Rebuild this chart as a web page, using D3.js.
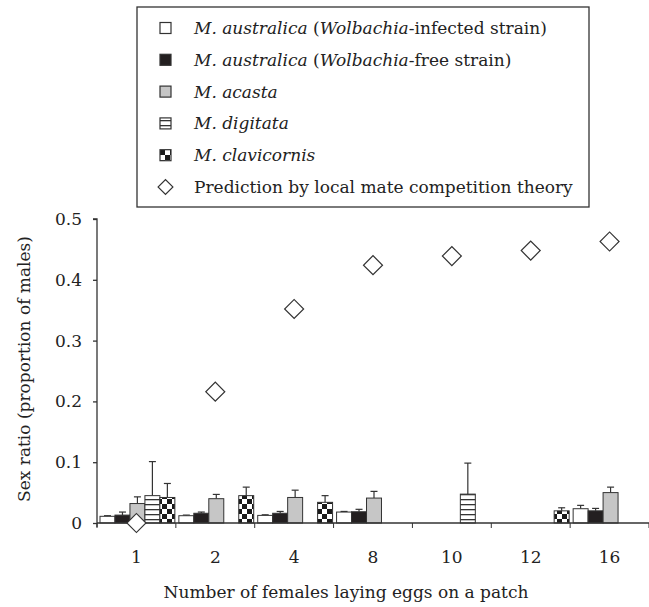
<!DOCTYPE html>
<meta charset="utf-8">
<script src="https://d3js.org/d3.v7.min.js"></script>
<style>
  body { margin: 0; background: #fff; }
  text { font-family: "DejaVu Serif", "Liberation Serif", serif; fill: #222; }
</style>
<div id="my_dataviz"></div>
<script>
  // categories (number of females per patch)
  var categories = ["1", "2", "4", "8", "10", "12", "16"];
  var seriesKeys = ["infected", "free", "acasta", "digitata", "clavicornis"];

  // mean sex ratio and error (null = not tested)
  var infected    = [0.011, 0.012, 0.0125, 0.018, null, null, 0.0235];
  var infectedErr = [0.001, 0.001, 0.001, 0.001, null, null, 0.0055];
  var free        = [0.013, 0.016, 0.016, 0.0185, null, null, 0.020];
  var freeErr     = [0.005, 0.002, 0.003, 0.004, null, null, 0.004];
  var acasta      = [0.032, 0.040, 0.042, 0.041, null, null, 0.050];
  var acastaErr   = [0.011, 0.007, 0.012, 0.011, null, null, 0.009];
  var digitata    = [0.045, null, null, null, 0.0475, null, null];
  var digitataErr = [0.056, null, null, null, 0.051, null, null];
  var clavicornis    = [0.042, 0.045, 0.034, null, null, 0.020, null];
  var clavicornisErr = [0.023, 0.014, 0.011, null, null, 0.005, null];
  // LMC prediction
  var prediction = [0, 0.216, 0.352, 0.424, 0.439, 0.448, 0.463];

  var yTicks = [0, 0.1, 0.2, 0.3, 0.4, 0.5];

  var values = { infected: infected, free: free, acasta: acasta, digitata: digitata, clavicornis: clavicornis };
  var errors = { infected: infectedErr, free: freeErr, acasta: acastaErr, digitata: digitataErr, clavicornis: clavicornisErr };
  var fills = { infected: "#fff", free: "#231f20", acasta: "#c6c6c6", digitata: "url(#stripes)", clavicornis: "url(#checker)" };

  var W = 649, H = 607;
  var margin = { top: 219, right: 0, bottom: 84, left: 97 },
    width = W - margin.left - margin.right,
    height = H - margin.top - margin.bottom;

  var root = d3.select("#my_dataviz").append("svg")
    .attr("width", W).attr("height", H);

  // patterns
  var defs = root.append("defs");
  var st = defs.append("pattern").attr("id", "stripes")
    .attr("patternUnits", "userSpaceOnUse").attr("width", 10).attr("height", 5);
  st.append("rect").attr("width", 10).attr("height", 5).attr("fill", "#fff");
  st.append("rect").attr("y", 0).attr("width", 10).attr("height", 1.3).attr("fill", "#333");
  var ch = defs.append("pattern").attr("id", "checker")
    .attr("patternUnits", "userSpaceOnUse").attr("width", 10).attr("height", 10);
  ch.append("rect").attr("width", 10).attr("height", 10).attr("fill", "#fff");
  ch.append("rect").attr("width", 5).attr("height", 5).attr("fill", "#1a1a1a");
  ch.append("rect").attr("x", 5).attr("y", 5).attr("width", 5).attr("height", 5).attr("fill", "#1a1a1a");

  var svg = root.append("g")
    .attr("transform", "translate(" + margin.left + "," + margin.top + ")");

  var x = d3.scaleBand().domain(categories).range([0, width]).padding(0);
  var x1 = d3.scaleBand().domain(seriesKeys).range([3, x.bandwidth() - 1]).padding(0);
  var y = d3.scaleLinear().domain([0, 0.5]).range([height, 0]);

  // bars
  seriesKeys.forEach(function (key) {
    var rows = categories.map(function (c, i) {
      return { cat: c, v: values[key][i], e: errors[key][i] };
    }).filter(function (d) { return d.v != null; });

    var g = svg.append("g");
    // error bars (drawn first, upward only)
    g.selectAll("line.err").data(rows).enter().append("line")
      .attr("x1", function (d) { return x(d.cat) + x1(key) + x1.bandwidth() / 2; })
      .attr("x2", function (d) { return x(d.cat) + x1(key) + x1.bandwidth() / 2; })
      .attr("y1", function (d) { return y(d.v); })
      .attr("y2", function (d) { return y(d.v + d.e); })
      .attr("stroke", "#333").attr("stroke-width", 1.2);
    g.selectAll("line.cap").data(rows).enter().append("line")
      .attr("x1", function (d) { return x(d.cat) + x1(key) + x1.bandwidth() / 2 - 3.5; })
      .attr("x2", function (d) { return x(d.cat) + x1(key) + x1.bandwidth() / 2 + 3.5; })
      .attr("y1", function (d) { return y(d.v + d.e); })
      .attr("y2", function (d) { return y(d.v + d.e); })
      .attr("stroke", "#333").attr("stroke-width", 1.2);
    g.selectAll("rect").data(rows).enter().append("rect")
      .attr("x", function (d) { return x(d.cat) + x1(key); })
      .attr("y", function (d) { return y(d.v); })
      .attr("width", x1.bandwidth())
      .attr("height", function (d) { return y(0) - y(d.v); })
      .attr("fill", fills[key])
      .attr("stroke", "#333").attr("stroke-width", 1);
  });

  // axes
  var yAxis = svg.append("g")
    .call(d3.axisLeft(y).tickValues(yTicks).tickSize(4).tickPadding(11)
      .tickFormat(function (d) { return d === 0 ? "0" : d3.format(".1f")(d); }));
  yAxis.select(".domain").attr("d", "M-4," + y(0.5) + "H0V" + (height + 4));
  yAxis.selectAll("text").style("font-size", "17px");

  var xAxis = svg.append("g")
    .attr("transform", "translate(0," + height + ")")
    .call(d3.axisBottom(x).tickSize(0).tickPadding(28));
  xAxis.select(".domain").attr("d", "M0,0H" + width);
  xAxis.selectAll("text").style("font-size", "17px");
  // boundary ticks between groups
  var bounds = categories.map(function (c) { return x(c); }).concat([x.range()[1]]);
  xAxis.selectAll("line.bnd").data(bounds).enter().append("line")
    .attr("x1", function (d) { return d; }).attr("x2", function (d) { return d; })
    .attr("y1", 0).attr("y2", 5).attr("stroke", "#333");
  svg.selectAll(".domain, .tick line").attr("stroke", "#333").attr("stroke-width", 1.3);

  // prediction diamonds
  var diamond = d3.symbol().type(d3.symbolSquare).size(180);
  svg.append("g").selectAll("path").data(prediction).enter().append("path")
    .attr("d", diamond)
    .attr("transform", function (d, i) {
      return "translate(" + (x(categories[i]) + x.bandwidth() / 2) + "," + y(d) + ") rotate(45)";
    })
    .attr("fill", "#fff").attr("stroke", "#333").attr("stroke-width", 1.2);

  // axis titles
  root.append("text")
    .attr("transform", "translate(30,369) rotate(-90)")
    .attr("text-anchor", "middle")
    .style("font-size", "17px")
    .text("Sex ratio (proportion of males)");
  root.append("text")
    .attr("x", 346).attr("y", 598)
    .attr("text-anchor", "middle")
    .style("font-size", "17px")
    .text("Number of females laying eggs on a patch");

  // legend
  var legend = root.append("g");
  legend.append("rect").attr("x", 137).attr("y", 7).attr("width", 452).attr("height", 200)
    .attr("fill", "#fff").attr("stroke", "#333").attr("stroke-width", 1.3);
  var legendRows = [
    [["M. australica", true], [" (", false], ["Wolbachia", true], ["-infected strain)", false]],
    [["M. australica", true], [" (", false], ["Wolbachia", true], ["-free strain)", false]],
    [["M. acasta", true]],
    [["M. digitata", true]],
    [["M. clavicornis", true]],
    [["Prediction by local mate competition theory", false]]
  ];
  legendRows.forEach(function (parts, i) {
    var cy = 28 + i * 31.8;
    if (i < 5) {
      legend.append("rect").attr("x", 160).attr("y", cy - 5.5).attr("width", 11).attr("height", 11)
        .attr("fill", fills[seriesKeys[i]]).attr("stroke", "#333").attr("stroke-width", 1.2);
    } else {
      legend.append("path").attr("d", d3.symbol().type(d3.symbolSquare).size(110))
        .attr("transform", "translate(165.5," + cy + ") rotate(45)")
        .attr("fill", "#fff").attr("stroke", "#333").attr("stroke-width", 1.2);
    }
    var t = legend.append("text").attr("x", 194).attr("y", cy + 6).style("font-size", "17px");
    parts.forEach(function (p) {
      t.append("tspan").style("font-style", p[1] ? "italic" : "normal").text(p[0]);
    });
  });
</script>
